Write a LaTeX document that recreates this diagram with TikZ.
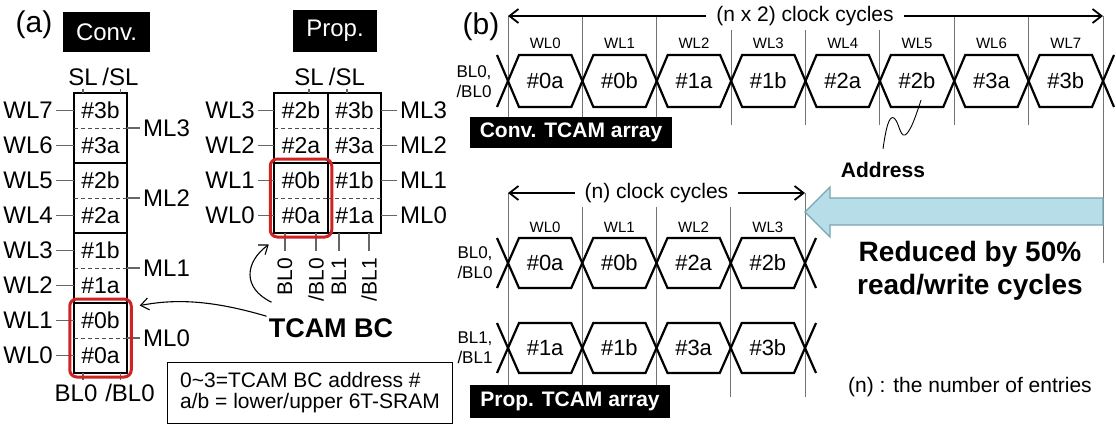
\documentclass[tikz,border=0pt]{standalone}
\usepackage{fontspec}
\setmainfont{Liberation Sans}
\usetikzlibrary{positioning, arrows.meta, fit}
\definecolor{bcred}{RGB}{205,35,35}
\definecolor{arrfill}{RGB}{183,221,232}
\definecolor{arrdraw}{RGB}{120,165,180}
\newcommand{\fsz}[1]{\fontsize{#1}{#1}\selectfont}

\begin{document}
\begin{tikzpicture}[x=1pt, y=-1pt,
		lbl/.style={font=\fsz{24}, inner sep=3pt},
		cell/.style={minimum width=53.5pt, minimum height=35pt, inner sep=0pt, outer sep=0pt, font=\fsz{23}},
		bcbox/.style={draw, line width=2.4pt},
		midline/.style={draw=black!70, dash pattern=on 4pt off 3pt, line width=0.9pt},
		wire/.style={draw=black!60, line width=1.1pt},
		redbox/.style={draw=bcred, line width=3pt, rounded corners=7pt, inner sep=4pt},
		blacktag/.style={fill=black, text=white, inner sep=0pt},
		wavepath/.style={line width=2.2pt},
		vline/.style={draw=black!55, line width=0.9pt},
		dimarrow/.style={-{Straight Barb[length=9pt, width=14pt]}, line width=1.8pt},
		callout/.style={-{Straight Barb[length=8pt, width=12pt]}, line width=1.1pt},
		rotlbl/.style={lbl, font=\fsz{21}, rotate=90, anchor=east, inner xsep=7pt, inner ysep=0pt}
		]
		\useasboundingbox (0,0) rectangle (1116,423);
		
		% (a) CONVENTIONAL COLUMN
		\node[font=\fsz{30}] (alabel) at (34,25) {(a)};
		\node[blacktag, font=\fsz{24}, minimum width=87pt, minimum height=40pt] (ctag) at (106.5,32) {Conv.};
		\foreach \k in {0,...,3} {
			\pgfmathsetmacro{\yt}{93+(3-\k)*70}
			\pgfmathtruncatemacro{\wb}{2*\k+1}
			\pgfmathtruncatemacro{\wa}{2*\k}
			\node[cell] (cb\k) at (100.5,\yt+17.5) {\#\k b};
			\node[cell] (ca\k) at (100.5,\yt+52.5) {\#\k a};
			\draw[bcbox] (cb\k.north west) rectangle (ca\k.south east);
			\draw[midline] (cb\k.south west) -- (cb\k.south east);
			\node[lbl, anchor=east] (cwl\wb) at (56,\yt+17.5) {WL\wb};
			\node[lbl, anchor=east] (cwl\wa) at (56,\yt+52.5) {WL\wa};
			\draw[wire] (cwl\wb) -- (cb\k);
			\draw[wire] (cwl\wa) -- (ca\k);
			\node[lbl, anchor=west] (cml\k) at (140,\yt+35) {ML\k};
			\draw[wire] (cb\k.south east) -- (cml\k);
		}
		\node[lbl] (csl) at (83,77) {SL};
		\node[lbl] (cnsl) at (120.5,77) {/SL};
		\draw[wire] (csl) -- (csl |- cb3.north);
		\draw[wire] (cnsl) -- (cnsl |- cb3.north);
		\node[lbl] (cbl) at (76,393) {BL0};
		\node[lbl] (cnbl) at (130,393) {/BL0};
		\draw[wire] (ca0.south -| csl) -- ++(0,7);
		\draw[wire] (ca0.south -| cnsl) -- ++(0,7);
		\node[redbox, fit=(cb0)(ca0)] (cred) {};
		
		% (a) PROPOSED ARRAY
		\node[blacktag, font=\fsz{24}, minimum width=84pt, minimum height=42pt] (ptag) at (335,31) {Prop.};
		\foreach \k/\cx/\yt in {0/301/163, 1/354.5/163, 2/301/93, 3/354.5/93} {
			\node[cell] (pb\k) at (\cx,\yt+17.5) {\#\k b};
			\node[cell] (pa\k) at (\cx,\yt+52.5) {\#\k a};
			\draw[bcbox] (pb\k.north west) rectangle (pa\k.south east);
			\draw[midline] (pb\k.south west) -- (pb\k.south east);
		}
		\foreach \w/\l/\r/\yy in {3/pb2/pb3/110.5, 2/pa2/pa3/145.5, 1/pb0/pb1/180.5, 0/pa0/pa1/215.5} {
			\node[lbl, anchor=east] (pwl\w) at (258,\yy) {WL\w};
			\node[lbl, anchor=west] (pml\w) at (397,\yy) {ML\w};
			\draw[wire] (pwl\w) -- (\l);
			\draw[wire] (\r) -- (pml\w);
		}
		\node[lbl] (psl) at (309,77) {SL};
		\node[lbl] (pnsl) at (347,77) {/SL};
		\draw[wire] (psl) -- (psl |- pb2.north);
		\draw[wire] (pnsl) -- (pnsl |- pb3.north);
		\foreach \n/\t/\xx in {1/{BL0}/285, 2/{/BL0}/316, 3/{BL1}/339, 4/{/BL1}/369} {
			\node[rotlbl] (pbl\n) at (\xx,251) {\t};
			\draw[wire] (pbl\n) -- (pbl\n |- pa0.south);
		}
		\node[redbox, fit=(pb0)(pa0)] (pred) {};
		
		% TCAM BC CALLOUT
		\node[font=\bfseries\fsz{27}, inner sep=2pt] (tcam) at (331,328) {TCAM BC};
		\draw[callout] (tcam.north west) .. controls (205,298) and (170,300) .. ([shift={(7pt,-8pt)}]cred.north east);
		\draw[callout] ([shift={(5pt,14pt)}]tcam.north west) .. controls (242,288) and (245,262) .. ([yshift=-6pt]pred.south west);
		
		% LEGEND
		\node[draw, line width=1pt, anchor=north west, align=left, font=\fontsize{21}{21}\selectfont, minimum width=285pt, minimum height=61pt] (legend) at (167,362) {0\textasciitilde3=TCAM BC address \#\\a/b = lower/upper 6T-SRAM};
		
		% (b) CONVENTIONAL TIMING
		\node[font=\fsz{30}] (blabel) at (481,27) {(b)};
		\foreach \i in {0,...,8}
			\draw[vline] (508+74.375*\i,16) -- (508+74.375*\i,125);
		\draw[vline] (1103,125) -- (1103,263);
		\coordinate (ctl) at (508,16);
		\coordinate (ctr) at (1103,16);
		\node[fill=white, font=\fsz{21}, inner xsep=10pt, inner ysep=4pt] (cnx2) at (805,16) {(n x 2) clock cycles};
		\draw[dimarrow] (cnx2) -- (ctl);
		\draw[dimarrow] (cnx2) -- (ctr);
		\foreach \t [count=\n from 0] in {0a,0b,1a,1b,2a,2b,3a,3b} {
			\pgfmathsetmacro{\xa}{508+74.375*\n}
			\pgfmathsetmacro{\xb}{\xa+74.375}
			\draw[wavepath] (\xa,81) -- (\xa+11,55) -- (\xb-11,55) -- (\xb,81) -- (\xb-11,107) -- (\xa+11,107) -- cycle;
			\node[font=\fsz{22}] (cd\n) at (\xa/2+\xb/2,81) {\#\t};
			\node[font=\fsz{15}] (cwlt\n) at (\xa/2+\xb/2,43) {WL\n};
		}
		\draw[wavepath] (497,55) -- (508,81) -- (497,107);
		\draw[wavepath] (1114,55) -- (1103,81) -- (1114,107);
		\node[font=\fontsize{17}{20}\selectfont, align=right, anchor=east] (cblt) at (495,82) {BL0,\\/BL0};
		\node[blacktag, font=\bfseries\fsz{21}, minimum width=202pt, minimum height=31pt] (cttag) at (571,132.5) {Conv. TCAM array};
		
		% ADDRESS NOTE
		\node[font=\bfseries\fsz{21}] (addr) at (883,170) {Address};
		\draw[line width=0.9pt] ([yshift=10pt]addr.north) .. controls (886,128) and (889,115) .. (894,118) .. controls (899,122) and (900,137) .. (905,135) .. controls (911,132) and (917,112) .. ([shift={(4pt,-19pt)}]cd5.center);
		
		% (b) PROPOSED TIMING
		\foreach \i in {0,...,4}
			\draw[vline] (508+74.25*\i,193) -- (508+74.25*\i,397);
		\coordinate (ptl) at (508,193);
		\coordinate (ptr) at (805,193);
		\node[fill=white, font=\fsz{21}, inner xsep=10pt, inner ysep=4pt] (pn) at (656.5,193) {(n) clock cycles};
		\draw[dimarrow] (pn) -- (ptl);
		\draw[dimarrow] (pn) -- (ptr);
		\foreach \t/\u [count=\n from 0] in {0a/1a,0b/1b,2a/3a,2b/3b} {
			\pgfmathsetmacro{\xa}{508+74.25*\n}
			\pgfmathsetmacro{\xb}{\xa+74.25}
			\draw[wavepath] (\xa,263) -- (\xa+11,238) -- (\xb-11,238) -- (\xb,263) -- (\xb-11,288) -- (\xa+11,288) -- cycle;
			\draw[wavepath] (\xa,348) -- (\xa+11,323) -- (\xb-11,323) -- (\xb,348) -- (\xb-11,373) -- (\xa+11,373) -- cycle;
			\node[font=\fsz{22}] (pda\n) at (\xa/2+\xb/2,263) {\#\t};
			\node[font=\fsz{22}] (pdb\n) at (\xa/2+\xb/2,348) {\#\u};
			\node[font=\fsz{15}] (pwlt\n) at (\xa/2+\xb/2,227) {WL\n};
		}
		\foreach \yy in {263,348} {
			\draw[wavepath] (497,\yy-25) -- (508,\yy) -- (497,\yy+25);
			\draw[wavepath] (816,\yy-25) -- (805,\yy) -- (816,\yy+25);
		}
		\node[font=\fontsize{17}{20}\selectfont, align=right, anchor=east] (pblt0) at (496,263) {BL0,\\/BL0};
		\node[font=\fontsize{17}{20}\selectfont, align=right, anchor=east] (pblt1) at (496,348) {BL1,\\/BL1};
		\node[blacktag, font=\bfseries\fsz{21}, minimum width=200pt, minimum height=33pt] (pttag) at (570,401.5) {Prop. TCAM array};
		
		% REDUCTION ARROW
		\draw[fill=arrfill, draw=arrdraw, line width=1.2pt] (1103,198) -- (830,198) -- (830,187) -- (805,212) -- (830,237) -- (830,225) -- (1103,225) -- cycle;
		\node[font=\bfseries\fontsize{28}{33}\selectfont, align=center] (reduce) at (970,271) {Reduced by 50\%\\read/write cycles};
		\node[font=\fsz{21}] (nent) at (970,387) {(n) : the number of entries};
		
	\end{tikzpicture}
\end{document}
